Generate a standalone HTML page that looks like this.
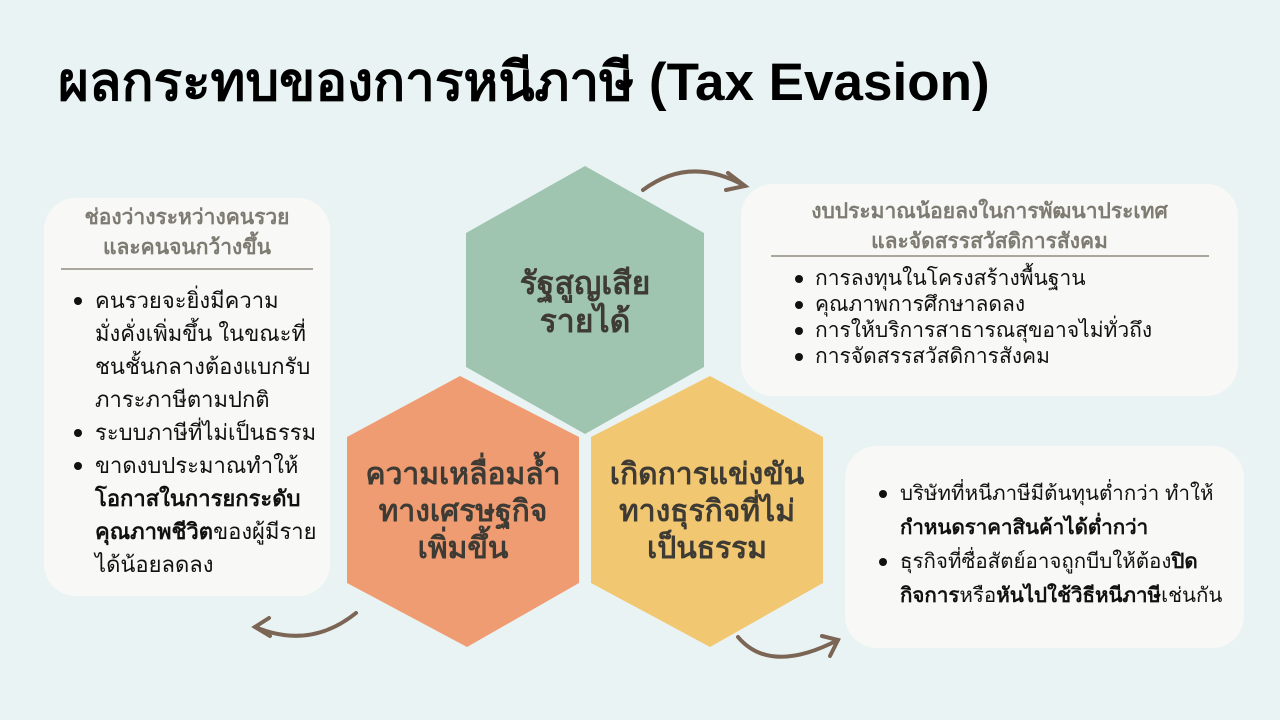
<!DOCTYPE html>
<html><head><meta charset="utf-8"><style>
body{margin:0;width:1280px;height:720px;background:#eaf3f4;position:relative;overflow:hidden;font-family:"Liberation Sans","DejaVu Sans",sans-serif;color:#111}
.t{position:absolute;white-space:nowrap}
.box{position:absolute;background:#f8f8f6;border-radius:32px}
.hd{color:#7d7b72;font-weight:bold;font-size:21px;text-align:center;line-height:30px}
.ul{position:absolute;white-space:nowrap}
.ul div{position:relative;padding-left:var(--ind)}
.ul div.s:before{content:"";position:absolute;left:6px;top:50%;width:8px;height:8px;margin-top:-4px;border-radius:50%;background:#111}
</style></head><body>
<div class="t" style="left:58px;top:40px;font-size:53px;font-weight:bold;color:#000">ผลกระทบของการหนีภาษี (Tax Evasion)</div>

<div class="box" style="left:44px;top:198px;width:286px;height:398px"></div>
<div class="t hd" style="left:44px;top:203px;width:286px">ช่องว่างระหว่างคนรวย<br>และคนจนกว้างขึ้น</div>
<div style="position:absolute;left:61px;top:268px;width:252px;height:2px;background:#aaa69d"></div>
<div class="ul" style="left:68px;top:284px;font-size:22px;line-height:33px;--ind:27px">
<div class="s">คนรวยจะยิ่งมีความ</div><div>มั่งคั่งเพิ่มขึ้น ในขณะที่</div><div>ชนชั้นกลางต้องแบกรับ</div><div>ภาระภาษีตามปกติ</div>
<div class="s">ระบบภาษีที่ไม่เป็นธรรม</div><div class="s">ขาดงบประมาณทำให้</div><div><b>โอกาสในการยกระดับ</b></div><div><b>คุณภาพชีวิต</b>ของผู้มีราย</div><div>ได้น้อยลดลง</div></div>

<div class="box" style="left:741px;top:184px;width:497px;height:212px"></div>
<div class="t hd" style="left:741px;top:197px;width:497px">งบประมาณน้อยลงในการพัฒนาประเทศ<br>และจัดสรรสวัสดิการสังคม</div>
<div style="position:absolute;left:771px;top:255px;width:438px;height:2px;background:#aaa69d"></div>
<div class="ul" style="left:789px;top:266px;font-size:21px;line-height:26px;--ind:26px">
<div class="s">การลงทุนในโครงสร้างพื้นฐาน</div><div class="s">คุณภาพการศึกษาลดลง</div><div class="s">การให้บริการสาธารณสุขอาจไม่ทั่วถึง</div><div class="s">การจัดสรรสวัสดิการสังคม</div></div>

<div class="box" style="left:845px;top:446px;width:399px;height:202px"></div>
<div class="ul" style="left:873px;top:477px;font-size:20.5px;line-height:34px;--ind:27px">
<div class="s">บริษัทที่หนีภาษีมีต้นทุนต่ำกว่า ทำให้</div><div><b>กำหนดราคาสินค้าได้ต่ำกว่า</b></div><div class="s">ธุรกิจที่ซื่อสัตย์อาจถูกบีบให้ต้อง<b>ปิด</b></div><div><b>กิจการ</b>หรือ<b>หันไปใช้วิธีหนีภาษี</b>เช่นกัน</div></div>

<svg width="1280" height="720" style="position:absolute;left:0;top:0">
<polygon points="585,166 704,233 704,367 585,434 466,367 466,233" fill="#9fc5b0"/>
<polygon points="460,376 579,437 579,583 467,647 347,583 347,437" fill="#ef9c72"/>
<polygon points="710,376 823,437 823,583 710,647 591,583 591,437" fill="#f2c772"/>
<g fill="none" stroke="#7b6656" stroke-width="4" stroke-linecap="round">
<path d="M643,190 Q690,155 745,186"/><path d="M728,173 L745,186 L726,190"/>
<path d="M356,613 Q310,650 255,627"/><path d="M269,618 L255,627 L270,636"/>
<path d="M738,637 Q770,675 838,640"/><path d="M822,636 L838,640 L830,656"/>
</g>
</svg>
<div class="t" style="left:466px;top:264px;width:238px;text-align:center;font-size:32px;font-weight:bold;line-height:38px;color:#3e3a34">รัฐสูญเสีย<br>รายได้</div>
<div class="t" style="left:347px;top:456px;width:232px;text-align:center;font-size:30px;font-weight:bold;line-height:37px;color:#3e3a34">ความเหลื่อมล้ำ<br>ทางเศรษฐกิจ<br>เพิ่มขึ้น</div>
<div class="t" style="left:591px;top:456px;width:232px;text-align:center;font-size:30px;font-weight:bold;line-height:37px;color:#3e3a34">เกิดการแข่งขัน<br>ทางธุรกิจที่ไม่<br>เป็นธรรม</div>
</body></html>
